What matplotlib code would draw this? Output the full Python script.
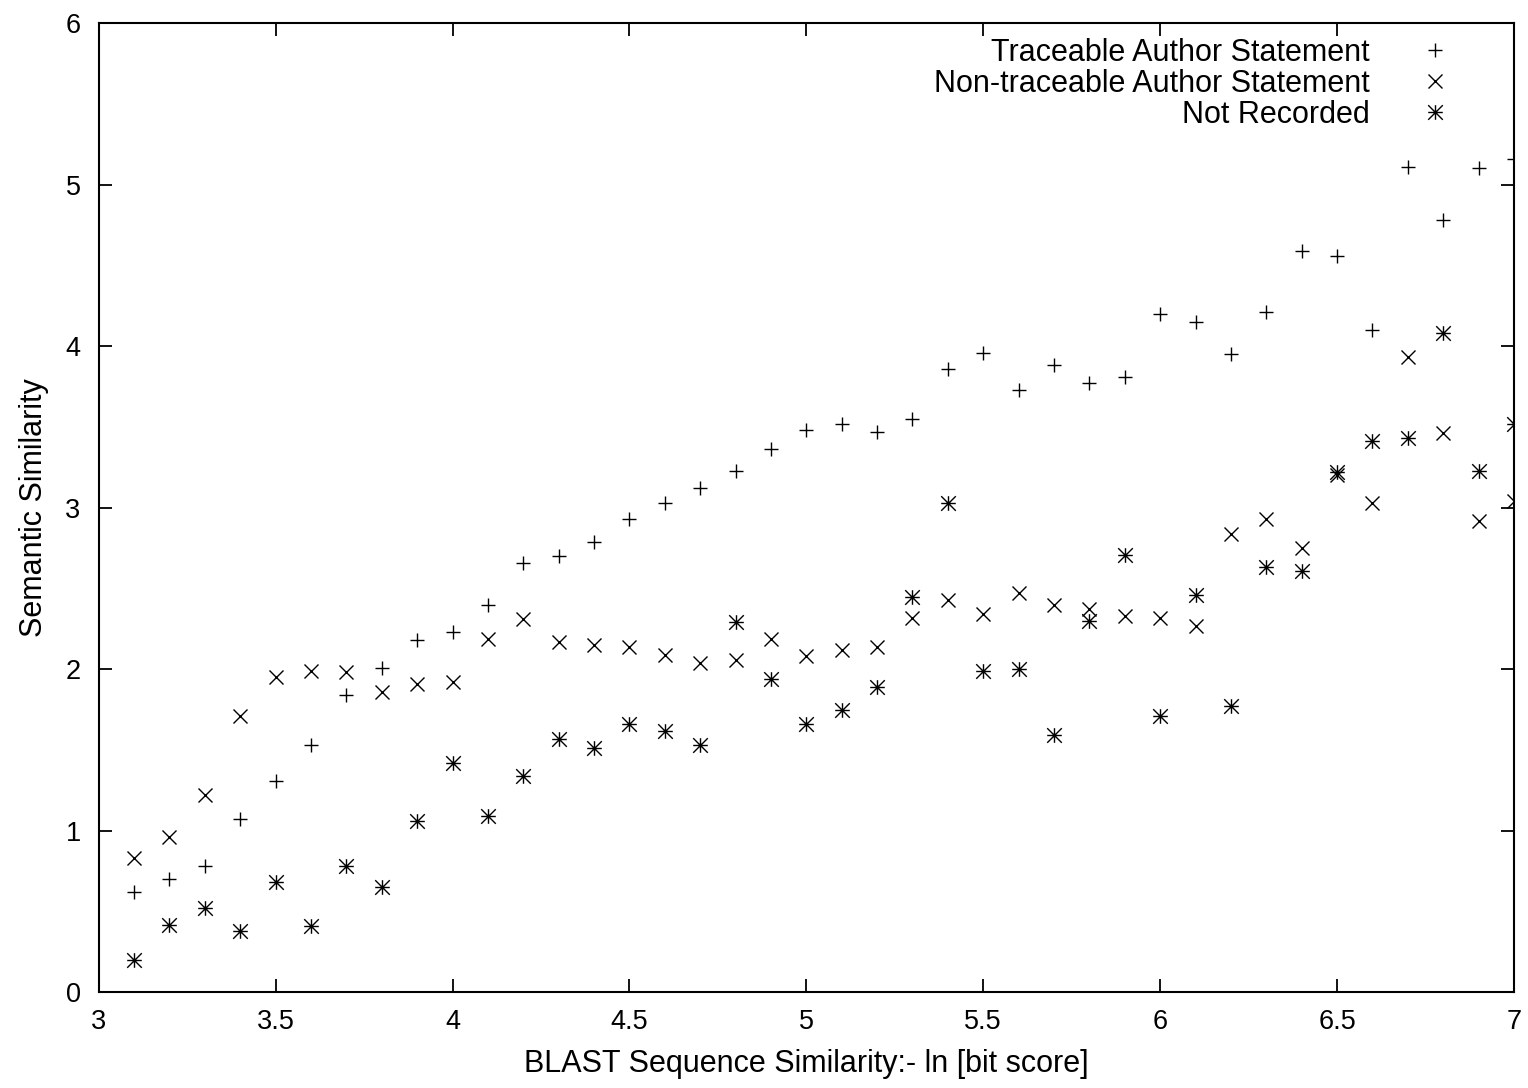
import numpy as np
import matplotlib
matplotlib.use("Agg")
import matplotlib.pyplot as plt
from matplotlib.path import Path

plt.rcParams["font.family"] = ["Liberation Sans", "DejaVu Sans"]

# BLAST score bins
x = [3.1, 3.2, 3.3, 3.4, 3.5, 3.6, 3.7, 3.8, 3.9, 4.0,
     4.1, 4.2, 4.3, 4.4, 4.5, 4.6, 4.7, 4.8, 4.9, 5.0,
     5.1, 5.2, 5.3, 5.4, 5.5, 5.6, 5.7, 5.8, 5.9, 6.0,
     6.1, 6.2, 6.3, 6.4, 6.5, 6.6, 6.7, 6.8, 6.9, 7.0]

traceable = [0.62, 0.70, 0.78, 1.07, 1.31, 1.53, 1.84, 2.01, 2.18, 2.23,
             2.40, 2.66, 2.70, 2.79, 2.93, 3.03, 3.12, 3.23, 3.36, 3.48,
             3.52, 3.47, 3.55, 3.86, 3.96, 3.73, 3.88, 3.77, 3.81, 4.20,
             4.15, 3.95, 4.21, 4.59, 4.56, 4.10, 5.11, 4.78, 5.10, 5.16]

non_traceable = [0.83, 0.96, 1.22, 1.71, 1.95, 1.99, 1.98, 1.86, 1.91, 1.92,
                 2.19, 2.31, 2.17, 2.15, 2.14, 2.09, 2.04, 2.06, 2.19, 2.08,
                 2.12, 2.14, 2.32, 2.43, 2.34, 2.47, 2.40, 2.37, 2.33, 2.32,
                 2.27, 2.84, 2.93, 2.75, 3.20, 3.03, 3.93, 3.46, 2.92, 3.04]

not_recorded = [0.20, 0.42, 0.52, 0.38, 0.68, 0.41, 0.78, 0.65, 1.06, 1.42,
                1.09, 1.34, 1.57, 1.51, 1.66, 1.62, 1.53, 2.29, 1.94, 1.66,
                1.75, 1.89, 2.45, 3.03, 1.99, 2.00, 1.59, 2.30, 2.71, 1.71,
                2.46, 1.77, 2.63, 2.61, 3.22, 3.41, 3.43, 4.08, 3.23, 3.52]

xticks = [3, 3.5, 4, 4.5, 5, 5.5, 6, 6.5, 7]
xticklabels = ["3", "3.5", "4", "4.5", "5", "5.5", "6", "6.5", "7"]
yticks = [0, 1, 2, 3, 4, 5, 6]

# gnuplot style star: plus and cross together
star = Path([(-1, 0), (1, 0), (0, -1), (0, 1), (-1, -1), (1, 1), (-1, 1), (1, -1)],
            [Path.MOVETO, Path.LINETO] * 4)

fig = plt.figure(figsize=(15.28, 10.88), dpi=100)
ax = fig.add_axes([0.0646, 0.0879, 0.9262, 0.891])

ax.plot(x, traceable, linestyle="none", marker="+", ms=9.5, mew=1.0, color="black",
        label="Traceable Author Statement")
ax.plot(x, non_traceable, linestyle="none", marker="x", ms=10, mew=1.0, color="black",
        label="Non-traceable Author Statement")
ax.plot(x, not_recorded, linestyle="none", marker=star, ms=10.5, mew=1.0, color="black",
        label="Not Recorded")

ax.set_xlim(3, 7)
ax.set_ylim(0, 6)
ax.set_xticks(xticks)
ax.set_xticklabels(xticklabels)
ax.set_yticks(yticks)
ax.tick_params(direction="in", length=9.5, width=1.3, labelsize=19.5,
               top=True, right=True, colors="black")
ax.tick_params(axis="x", pad=12)
ax.tick_params(axis="y", pad=13)
for s in ax.spines.values():
    s.set_linewidth(1.5)

ax.set_xlabel("BLAST Sequence Similarity:- ln [bit score]", fontsize=22, labelpad=10)
ax.set_ylabel("Semantic Similarity", fontsize=22, labelpad=12)

leg = ax.legend(loc="upper right", markerfirst=False, frameon=False, fontsize=22,
                handlelength=2.5, handletextpad=0.88, labelspacing=0.03,
                borderaxespad=0.0, bbox_to_anchor=(0.9795, 0.997))

fig.savefig("out.png", dpi=100)
